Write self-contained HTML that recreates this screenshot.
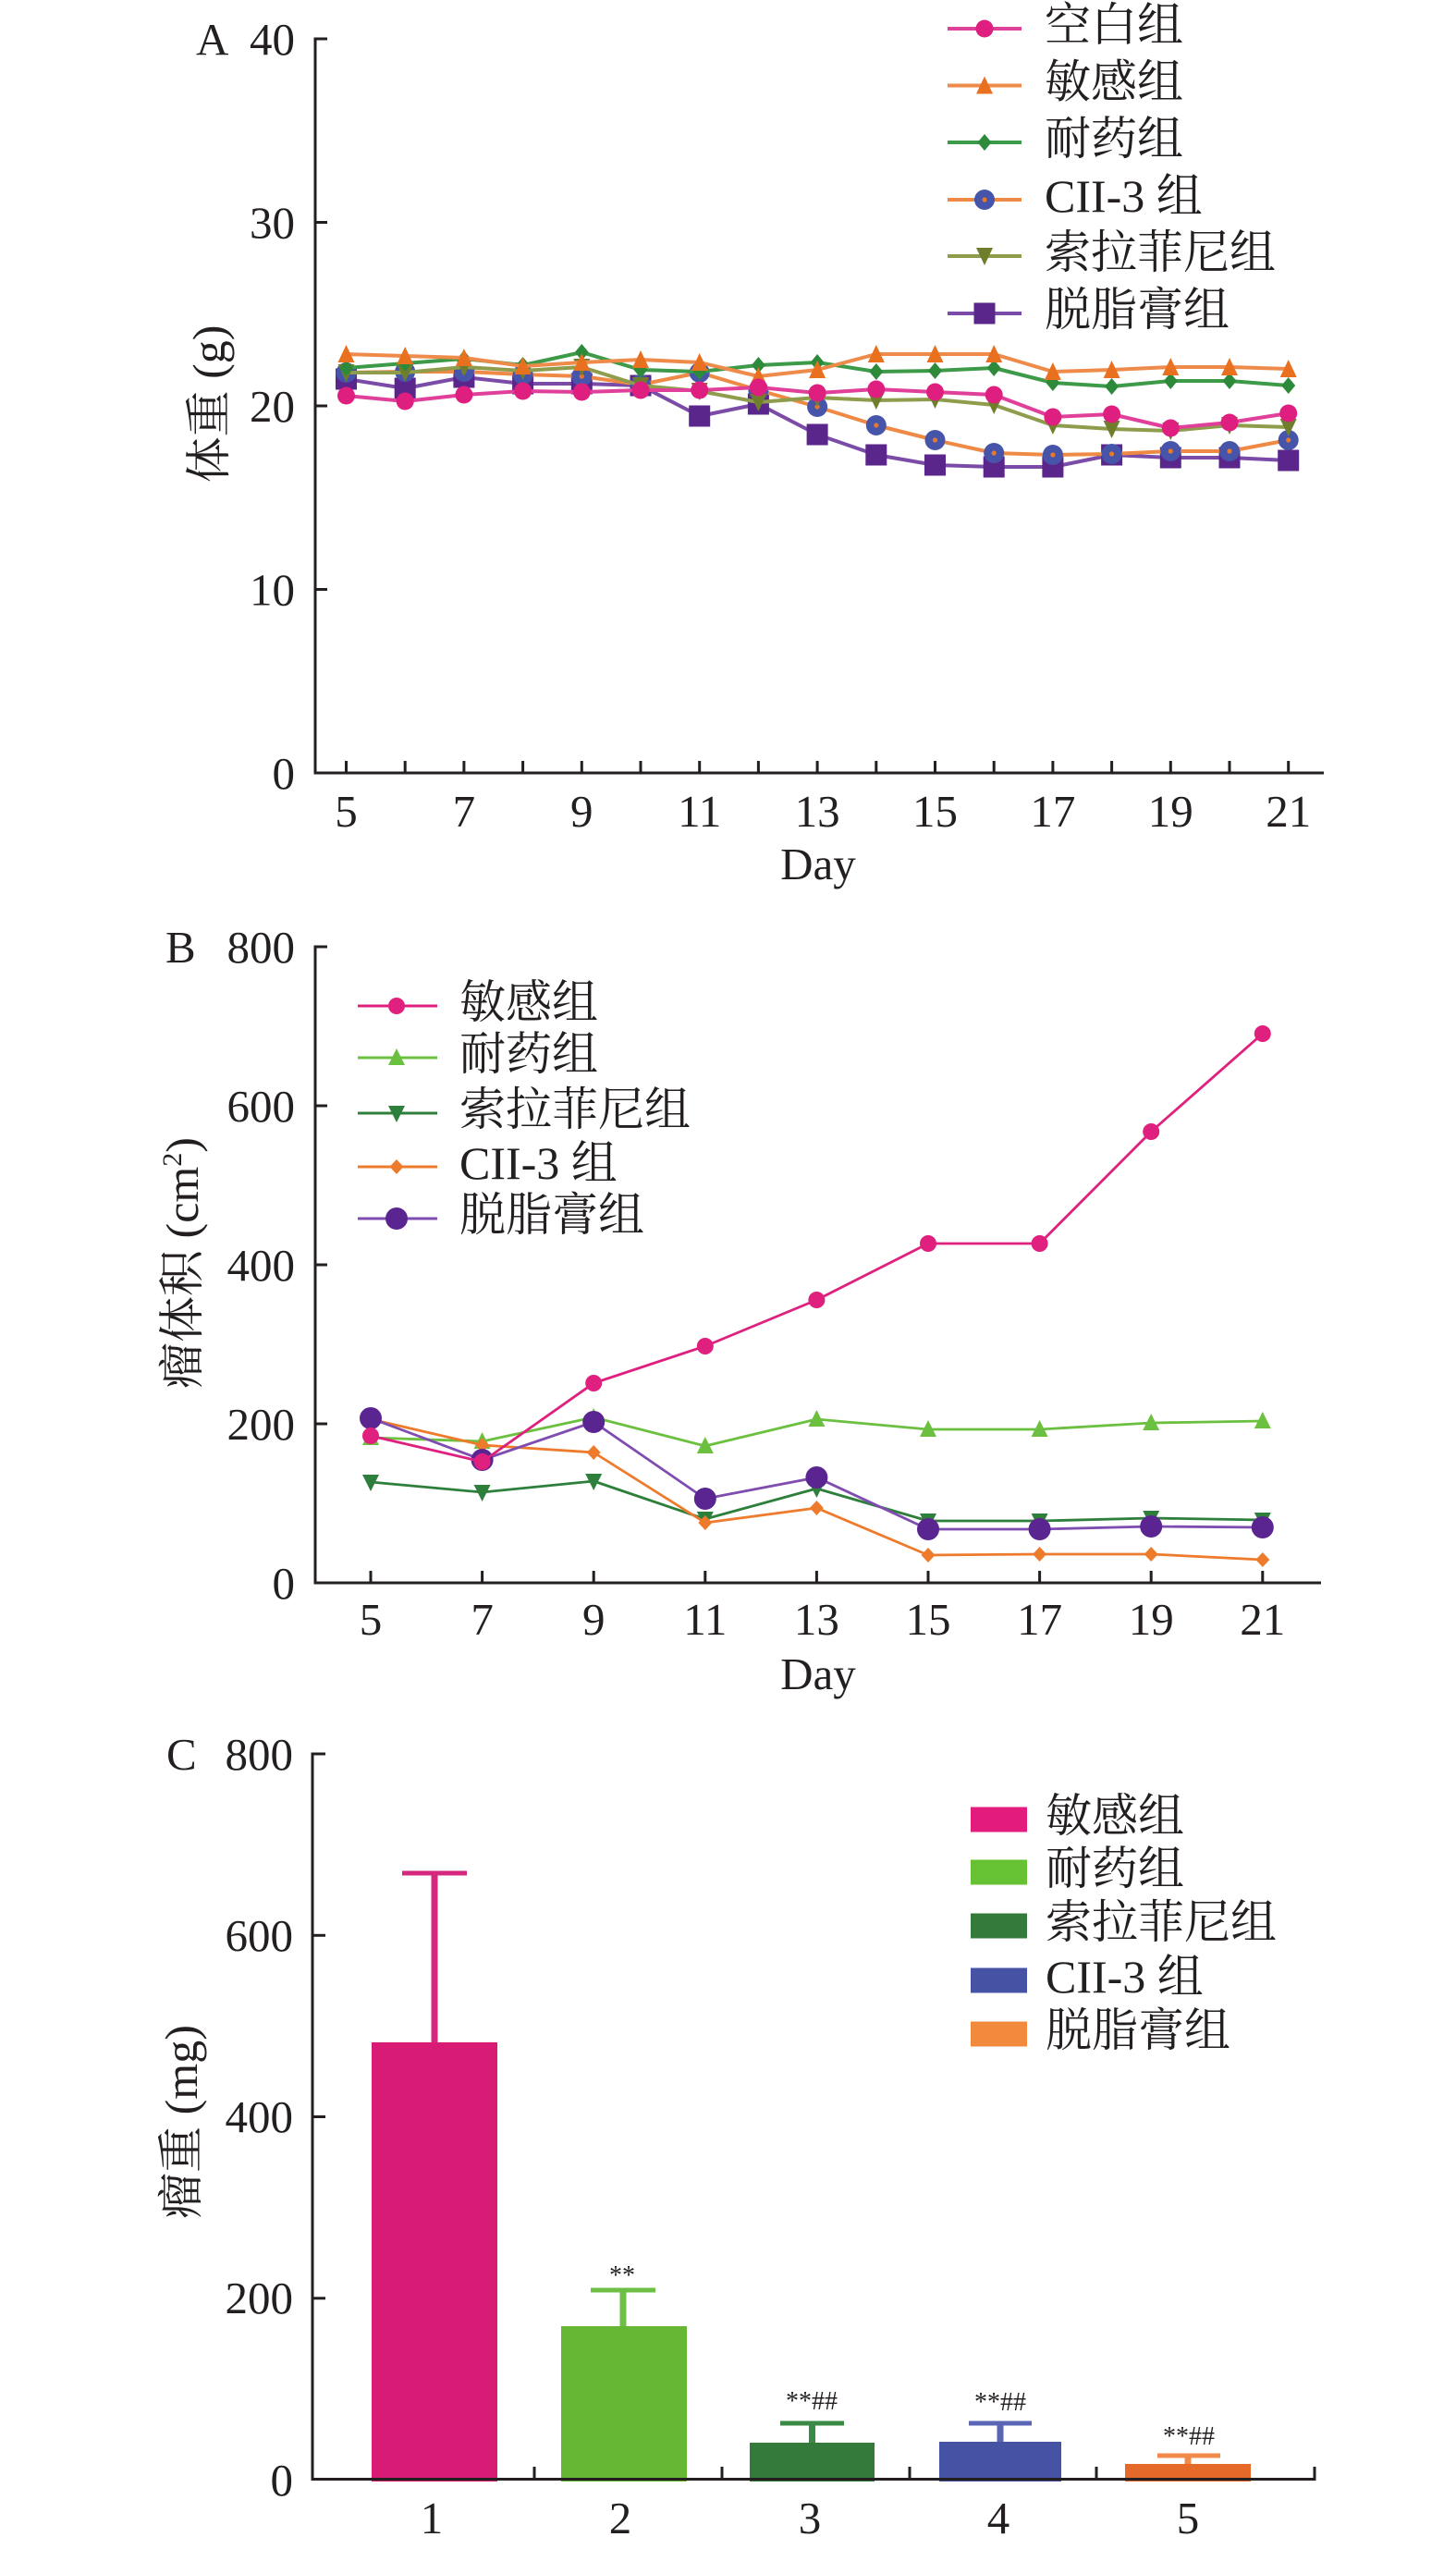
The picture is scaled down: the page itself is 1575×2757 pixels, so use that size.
<!DOCTYPE html>
<html><head><meta charset="utf-8"><style>
html,body{margin:0;padding:0;background:#fff;}
svg{display:block;}
text{font-family:"Liberation Serif","Noto Serif CJK SC",serif;fill:#231F20;}
</style></head><body>
<svg width="1575" height="2757" viewBox="0 0 1575 2757" xmlns="http://www.w3.org/2000/svg">
<rect width="1575" height="2757" fill="#fff"/>
<defs>
<marker id="mA1" markerUnits="userSpaceOnUse" markerWidth="30" markerHeight="30" refX="0" refY="0" overflow="visible"><circle r="9.5" fill="#DE1F7F"/></marker>
<marker id="mA2" markerUnits="userSpaceOnUse" markerWidth="30" markerHeight="30" refX="0" refY="0" overflow="visible"><polygon points="0,-10 9,9 -9,9" fill="#E8701F"/></marker>
<marker id="mA3" markerUnits="userSpaceOnUse" markerWidth="30" markerHeight="30" refX="0" refY="0" overflow="visible"><polygon points="0,-9 7.5,0 0,9 -7.5,0" fill="#2D8A3A"/></marker>
<marker id="mA4" markerUnits="userSpaceOnUse" markerWidth="30" markerHeight="30" refX="0" refY="0" overflow="visible"><circle r="11" fill="#4655AA"/><circle r="2.6" fill="#E8782A"/></marker>
<marker id="mA5" markerUnits="userSpaceOnUse" markerWidth="30" markerHeight="30" refX="0" refY="0" overflow="visible"><polygon points="-9,-9 9,-9 0,10" fill="#6F7E2C"/></marker>
<marker id="mA6" markerUnits="userSpaceOnUse" markerWidth="30" markerHeight="30" refX="0" refY="0" overflow="visible"><rect x="-11.5" y="-11.5" width="23" height="23" fill="#5B268C"/></marker>
<marker id="mB1" markerUnits="userSpaceOnUse" markerWidth="30" markerHeight="30" refX="0" refY="0" overflow="visible"><circle r="9" fill="#E0207F"/></marker>
<marker id="mB2" markerUnits="userSpaceOnUse" markerWidth="30" markerHeight="30" refX="0" refY="0" overflow="visible"><polygon points="0,-10 9,8 -9,8" fill="#6CC040"/></marker>
<marker id="mB3" markerUnits="userSpaceOnUse" markerWidth="30" markerHeight="30" refX="0" refY="0" overflow="visible"><polygon points="-9,-8 9,-8 0,10" fill="#2F7F3C"/></marker>
<marker id="mB4" markerUnits="userSpaceOnUse" markerWidth="30" markerHeight="30" refX="0" refY="0" overflow="visible"><polygon points="0,-8 7.5,0 0,8 -7.5,0" fill="#EE7B2C"/></marker>
<marker id="mB5" markerUnits="userSpaceOnUse" markerWidth="30" markerHeight="30" refX="0" refY="0" overflow="visible"><circle r="12" fill="#5A2590"/></marker>
</defs>

<!-- ================= PANEL A ================= -->
<g stroke="#231F20" stroke-width="3" fill="none">
<line x1="341" y1="40.5" x2="341" y2="837.5"/>
<line x1="339.5" y1="836" x2="1432" y2="836"/>
<line x1="341" y1="42" x2="354" y2="42"/>
<line x1="341" y1="240.5" x2="354" y2="240.5"/>
<line x1="341" y1="439" x2="354" y2="439"/>
<line x1="341" y1="637.5" x2="354" y2="637.5"/>
<path d="M374.5 836V823M438.2 836V823M501.9 836V823M565.6 836V823M629.3 836V823M693 836V823M756.7 836V823M820.4 836V823M884.1 836V823M947.8 836V823M1011.5 836V823M1075.2 836V823M1138.9 836V823M1202.6 836V823M1266.3 836V823M1330 836V823M1393.7 836V823"/>
</g>
<g font-size="49" text-anchor="end">
<text x="319" y="59">40</text>
<text x="319" y="257.5">30</text>
<text x="319" y="456">20</text>
<text x="319" y="654.5">10</text>
<text x="319" y="853">0</text>
</g>
<text x="212" y="59" font-size="49">A</text>
<g font-size="49" text-anchor="middle">
<text x="374.5" y="894">5</text>
<text x="501.9" y="894">7</text>
<text x="629.3" y="894">9</text>
<text x="756.7" y="894">11</text>
<text x="884.1" y="894">13</text>
<text x="1011.5" y="894">15</text>
<text x="1138.9" y="894">17</text>
<text x="1266.3" y="894">19</text>
<text x="1393.7" y="894">21</text>
<text x="885" y="951">Day</text>
</g>
<text transform="translate(243,437) rotate(-90)" font-size="50" text-anchor="middle">体重 (g)</text>

<!-- A series -->
<g fill="none" stroke-width="4" stroke-linejoin="round">
<polyline stroke="#7B4BA8" marker-start="url(#mA6)" marker-mid="url(#mA6)" marker-end="url(#mA6)" points="374.5,410 438.2,420 501.9,408 565.6,415 629.3,415 693,417 756.7,450 820.4,437 884.1,470 947.8,492 1011.5,503 1075.2,505 1138.9,505 1202.6,492 1266.3,495 1330,495 1393.7,498"/>
<polyline stroke="#EE8A45" marker-start="url(#mA4)" marker-mid="url(#mA4)" marker-end="url(#mA4)" points="374.5,403 438.2,402 501.9,402 565.6,405 629.3,407 693,416 756.7,403 820.4,422 884.1,440 947.8,460 1011.5,476 1075.2,490 1138.9,492 1202.6,491 1266.3,488 1330,488 1393.7,476"/>
<polyline stroke="#8E9D4B" marker-start="url(#mA5)" marker-mid="url(#mA5)" marker-end="url(#mA5)" points="374.5,403 438.2,403 501.9,397 565.6,401 629.3,397 693,417 756.7,423 820.4,435 884.1,430 947.8,433 1011.5,432 1075.2,438 1138.9,460 1202.6,464 1266.3,466 1330,460 1393.7,462"/>
<polyline stroke="#3C9A48" marker-start="url(#mA3)" marker-mid="url(#mA3)" marker-end="url(#mA3)" points="374.5,398 438.2,393 501.9,388 565.6,395 629.3,381 693,400 756.7,402 820.4,395 884.1,392 947.8,402 1011.5,401 1075.2,398 1138.9,414 1202.6,418 1266.3,412 1330,412 1393.7,417"/>
<polyline stroke="#EE8B4A" marker-start="url(#mA2)" marker-mid="url(#mA2)" marker-end="url(#mA2)" points="374.5,383 438.2,385 501.9,387 565.6,396 629.3,392 693,389 756.7,392 820.4,407 884.1,400 947.8,383 1011.5,383 1075.2,383 1138.9,402 1202.6,400 1266.3,397 1330,397 1393.7,399"/>
<polyline stroke="#E0409A" marker-start="url(#mA1)" marker-mid="url(#mA1)" marker-end="url(#mA1)" points="374.5,428 438.2,434 501.9,427 565.6,423 629.3,424 693,422 756.7,422 820.4,419 884.1,425 947.8,421 1011.5,424 1075.2,427 1138.9,451 1202.6,448 1266.3,463 1330,457 1393.7,447"/>
</g>

<!-- A legend -->
<g fill="none" stroke-width="4">
<polyline stroke="#E0409A" marker-mid="url(#mA1)" points="1025,31 1065,31 1105,31"/>
<polyline stroke="#EE8B4A" marker-mid="url(#mA2)" points="1025,92.5 1065,92.5 1105,92.5"/>
<polyline stroke="#3C9A48" marker-mid="url(#mA3)" points="1025,154 1065,154 1105,154"/>
<polyline stroke="#EE8A45" marker-mid="url(#mA4)" points="1025,216 1065,216 1105,216"/>
<polyline stroke="#8E9D4B" marker-mid="url(#mA5)" points="1025,277 1065,277 1105,277"/>
<polyline stroke="#7B4BA8" marker-mid="url(#mA6)" points="1025,339 1065,339 1105,339"/>
</g>
<g font-size="50">
<text x="1130" y="44">空白组</text>
<text x="1130" y="105.5">敏感组</text>
<text x="1130" y="167">耐药组</text>
<text x="1130" y="229">CII-3 组</text>
<text x="1130" y="290">索拉菲尼组</text>
<text x="1130" y="352">脱脂膏组</text>
</g>

<!-- ================= PANEL B ================= -->
<g stroke="#231F20" stroke-width="3" fill="none">
<line x1="341" y1="1022.5" x2="341" y2="1713.5"/>
<line x1="339.5" y1="1712" x2="1429" y2="1712"/>
<line x1="341" y1="1024" x2="354" y2="1024"/>
<line x1="341" y1="1196" x2="354" y2="1196"/>
<line x1="341" y1="1368" x2="354" y2="1368"/>
<line x1="341" y1="1540" x2="354" y2="1540"/>
<path d="M401 1712V1699M521.6 1712V1699M642.2 1712V1699M762.8 1712V1699M883.4 1712V1699M1004 1712V1699M1124.6 1712V1699M1245.2 1712V1699M1365.8 1712V1699"/>
</g>
<g font-size="49" text-anchor="end">
<text x="319" y="1041">800</text>
<text x="319" y="1213">600</text>
<text x="319" y="1385">400</text>
<text x="319" y="1557">200</text>
<text x="319" y="1729">0</text>
</g>
<text x="179" y="1041" font-size="49">B</text>
<g font-size="49" text-anchor="middle">
<text x="401" y="1768">5</text>
<text x="521.6" y="1768">7</text>
<text x="642.2" y="1768">9</text>
<text x="762.8" y="1768">11</text>
<text x="883.4" y="1768">13</text>
<text x="1004" y="1768">15</text>
<text x="1124.6" y="1768">17</text>
<text x="1245.2" y="1768">19</text>
<text x="1365.8" y="1768">21</text>
<text x="885" y="1827">Day</text>
</g>
<text transform="translate(214,1366) rotate(-90)" font-size="50" text-anchor="middle">瘤体积 (cm<tspan font-size="30" dy="-18">2</tspan><tspan dy="18">)</tspan></text>

<!-- B series -->
<g fill="none" stroke-width="2.8" stroke-linejoin="round">
<polyline stroke="#6CC040" marker-start="url(#mB2)" marker-mid="url(#mB2)" marker-end="url(#mB2)" points="401,1555 521.6,1559 642.2,1533 762.8,1564 883.4,1535 1004,1546 1124.6,1546 1245.2,1539 1365.8,1537"/>
<polyline stroke="#2F7F3C" marker-start="url(#mB3)" marker-mid="url(#mB3)" marker-end="url(#mB3)" points="401,1603 521.6,1614 642.2,1602 762.8,1643 883.4,1610 1004,1645 1124.6,1645 1245.2,1642 1365.8,1644"/>
<polyline stroke="#EE7B2C" marker-start="url(#mB4)" marker-mid="url(#mB4)" marker-end="url(#mB4)" points="401,1535 521.6,1563 642.2,1571 762.8,1647 883.4,1631 1004,1682 1124.6,1681 1245.2,1681 1365.8,1687"/>
<polyline stroke="#7F4CB0" marker-start="url(#mB5)" marker-mid="url(#mB5)" marker-end="url(#mB5)" points="401,1534 521.6,1579 642.2,1538 762.8,1621 883.4,1598 1004,1654 1124.6,1654 1245.2,1651 1365.8,1652"/>
<polyline stroke="#E0207F" marker-start="url(#mB1)" marker-mid="url(#mB1)" marker-end="url(#mB1)" points="401,1553 521.6,1581 642.2,1496 762.8,1456 883.4,1406 1004,1345 1124.6,1345 1245.2,1224 1365.8,1118"/>
</g>

<!-- B legend -->
<g fill="none" stroke-width="3">
<polyline stroke="#E0207F" marker-mid="url(#mB1)" points="387,1088 429,1088 473,1088"/>
<polyline stroke="#6CC040" marker-mid="url(#mB2)" points="387,1144 429,1144 473,1144"/>
<polyline stroke="#2F7F3C" marker-mid="url(#mB3)" points="387,1204 429,1204 473,1204"/>
<polyline stroke="#EE7B2C" marker-mid="url(#mB4)" points="387,1262 429,1262 473,1262"/>
<polyline stroke="#7F4CB0" marker-mid="url(#mB5)" points="387,1318 429,1318 473,1318"/>
</g>
<g font-size="50">
<text x="497" y="1101">敏感组</text>
<text x="497" y="1157">耐药组</text>
<text x="497" y="1217">索拉菲尼组</text>
<text x="497" y="1275">CII-3 组</text>
<text x="497" y="1331">脱脂膏组</text>
</g>

<!-- ================= PANEL C ================= -->
<!-- bars -->
<rect x="402" y="2209" width="136" height="475" fill="#D81B74"/>
<rect x="607" y="2516" width="136" height="168" fill="#66B834"/>
<rect x="811" y="2642" width="135" height="42" fill="#347A3A"/>
<rect x="1016" y="2641" width="132" height="43" fill="#4653A5"/>
<rect x="1217" y="2665" width="136" height="19" fill="#E56A2A"/>
<!-- error bars -->
<g fill="none">
<line x1="470" y1="2209" x2="470" y2="2026" stroke="#D4287E" stroke-width="7"/>
<line x1="435" y1="2026" x2="505" y2="2026" stroke="#D4287E" stroke-width="5"/>
<line x1="674" y1="2516" x2="674" y2="2477" stroke="#6DBF45" stroke-width="7"/>
<line x1="639" y1="2477" x2="709" y2="2477" stroke="#6DBF45" stroke-width="5"/>
<line x1="878.5" y1="2642" x2="878.5" y2="2621" stroke="#3A8A45" stroke-width="7"/>
<line x1="844" y1="2621" x2="913" y2="2621" stroke="#3A8A45" stroke-width="5"/>
<line x1="1082" y1="2641" x2="1082" y2="2621" stroke="#5A66B5" stroke-width="7"/>
<line x1="1048" y1="2621" x2="1116" y2="2621" stroke="#5A66B5" stroke-width="5"/>
<line x1="1285" y1="2665" x2="1285" y2="2656" stroke="#F0894A" stroke-width="7"/>
<line x1="1252" y1="2656" x2="1320" y2="2656" stroke="#F0894A" stroke-width="5"/>
</g>
<g font-size="28" text-anchor="middle">
<text x="673" y="2470">**</text>
<text x="878" y="2606">**##</text>
<text x="1082" y="2607">**##</text>
<text x="1286" y="2644">**##</text>
</g>
<!-- axes C -->
<g stroke="#231F20" stroke-width="3" fill="none">
<line x1="338" y1="1895.5" x2="338" y2="2683"/>
<line x1="336.5" y1="2681.5" x2="1423.5" y2="2681.5"/>
<line x1="338" y1="1897" x2="352" y2="1897"/>
<line x1="338" y1="2093.3" x2="352" y2="2093.3"/>
<line x1="338" y1="2289.5" x2="352" y2="2289.5"/>
<line x1="338" y1="2485.8" x2="352" y2="2485.8"/>
<path d="M578 2681.5V2668M781 2681.5V2668M984 2681.5V2668M1186 2681.5V2668M1422 2683V2668"/>
</g>
<g font-size="49" text-anchor="end">
<text x="317" y="1914">800</text>
<text x="317" y="2110">600</text>
<text x="317" y="2306">400</text>
<text x="317" y="2502">200</text>
<text x="317" y="2699">0</text>
</g>
<text x="180" y="1914" font-size="49">C</text>
<g font-size="49" text-anchor="middle">
<text x="467" y="2740">1</text>
<text x="671" y="2740">2</text>
<text x="876" y="2740">3</text>
<text x="1080" y="2740">4</text>
<text x="1285" y="2740">5</text>
</g>
<text transform="translate(213,2295) rotate(-90)" font-size="50" text-anchor="middle">瘤重 (mg)</text>

<!-- C legend -->
<rect x="1050" y="1954.5" width="61" height="27" fill="#E31B7C"/>
<rect x="1050" y="2011.5" width="61" height="27" fill="#66C232"/>
<rect x="1050" y="2069.5" width="61" height="27" fill="#347A3A"/>
<rect x="1050" y="2128.5" width="61" height="27" fill="#4653A5"/>
<rect x="1050" y="2186.5" width="61" height="27" fill="#F28A3E"/>
<g font-size="50">
<text x="1131" y="1981">敏感组</text>
<text x="1131" y="2038">耐药组</text>
<text x="1131" y="2096">索拉菲尼组</text>
<text x="1131" y="2155">CII-3 组</text>
<text x="1131" y="2213">脱脂膏组</text>
</g>
</svg>
</body></html>
